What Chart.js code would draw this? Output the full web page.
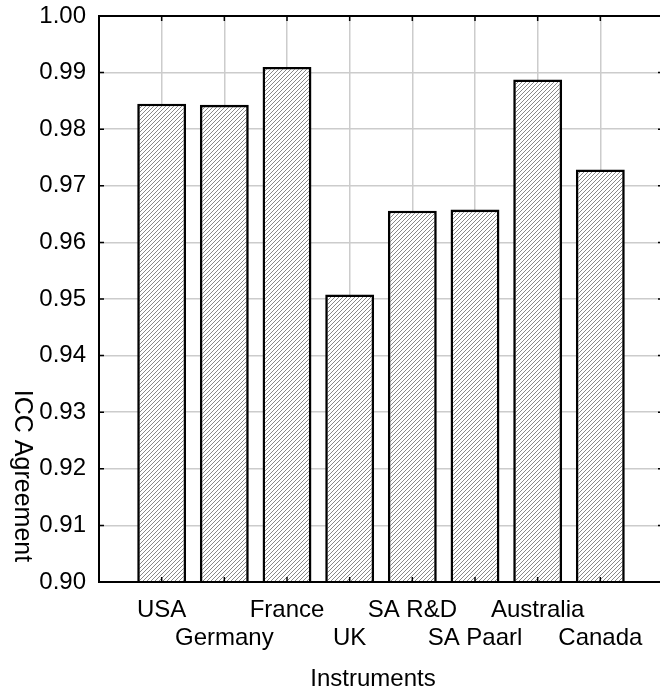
<!DOCTYPE html>
<html>
<head>
<meta charset="utf-8">
<script src="https://cdn.jsdelivr.net/npm/chart.js@4.4.1/dist/chart.umd.min.js"></script>
<style>
  html, body { margin: 0; padding: 0; background: #fff; overflow: hidden; }
  #wrap { width: 680px; height: 696px; }
</style>
</head>
<body>
<div id="wrap"><canvas id="iccChart"></canvas></div>
<script>
// data
const categories = ['USA', 'Germany', 'France', 'UK', 'SA R&D', 'SA Paarl', 'Australia', 'Canada'];
const agreement = [0.9845, 0.9843, 0.9910, 0.9508, 0.9656, 0.9658, 0.9888, 0.9729];
const yMin = 0.90;
const yMax = 1.00;
const yStep = 0.01;

// labels alternate between two rows, with an empty slot at each end of the axis
const labels = ['', ...categories.map((c, i) => (i % 2 ? ['', c] : c)), ''];
const values = [null, ...agreement, null];

// diagonal hatch fill for the bars
const makeHatch = () => {
    const n = 4;
    const tile = document.createElement('canvas');
    tile.width = n;
    tile.height = n;
    const c = tile.getContext('2d');
    c.fillStyle = '#fff';
    c.fillRect(0, 0, n, n);
    c.strokeStyle = '#6a6a6a';
    c.lineWidth = 0.8;
    c.beginPath();
    c.moveTo(0, n); c.lineTo(n, 0);
    c.moveTo(-1, 1); c.lineTo(1, -1);
    c.moveTo(n - 1, n + 1); c.lineTo(n + 1, n - 1);
    c.stroke();
    return c.createPattern(tile, 'repeat');
};

// inward tick marks, frame lines and the two axis titles
const framePlugin = {
    id: 'frame',
    afterDatasetsDraw(chart) {
        const { ctx, chartArea: a, scales: { x, y } } = chart;
        ctx.save();
        ctx.strokeStyle = '#000';
        ctx.lineWidth = 1.5;
        ctx.beginPath();
        y.ticks.forEach(t => {
            const py = y.getPixelForValue(t.value);
            ctx.moveTo(a.left, py); ctx.lineTo(a.left + 5, py);
            ctx.moveTo(a.right - 5, py); ctx.lineTo(a.right, py);
        });
        for (let i = 1; i <= categories.length; i++) {
            const px = x.getPixelForValue(i);
            ctx.moveTo(px, a.top); ctx.lineTo(px, a.top + 5);
            ctx.moveTo(px, a.bottom); ctx.lineTo(px, a.bottom - 5);
        }
        ctx.stroke();

        ctx.lineWidth = 2;
        ctx.beginPath();
        ctx.moveTo(a.left, a.top); ctx.lineTo(a.right, a.top);
        ctx.moveTo(a.right, a.top); ctx.lineTo(a.right, a.bottom);
        ctx.moveTo(a.left - 1, a.bottom); ctx.lineTo(a.right, a.bottom);
        ctx.stroke();

        ctx.fillStyle = '#000';
        ctx.textAlign = 'center';
        ctx.textBaseline = 'alphabetic';
        ctx.font = '24px "Liberation Sans", Arial, sans-serif';
        ctx.fillText('Instruments', 373, 686);

        ctx.font = '25px "Liberation Sans", Arial, sans-serif';
        ctx.translate(15, 476);
        ctx.rotate(Math.PI / 2);
        ctx.fillText('ICC Agreement', 0, 0);
        ctx.restore();
    }
};

Chart.defaults.font.family = '"Liberation Sans", Arial, sans-serif';
Chart.defaults.font.size = 24;
Chart.defaults.color = '#000';

const initChart = () => {
    const ctx = document.getElementById('iccChart').getContext('2d');
    new Chart(ctx, {
        type: 'bar',
        data: {
            labels: labels,
            datasets: [{
                data: values,
                backgroundColor: makeHatch(),
                borderColor: '#000',
                borderWidth: 2.6,
                borderSkipped: 'start',
                categoryPercentage: 1,
                barPercentage: 0.78
            }]
        },
        options: {
            responsive: true,
            maintainAspectRatio: false,
            animation: false,
            devicePixelRatio: 1,
            layout: { padding: { top: 16, left: 0, right: 17, bottom: 0 } },
            plugins: { legend: { display: false }, tooltip: { enabled: false } },
            scales: {
                x: {
                    offset: false,
                    grid: {
                        offset: false,
                        drawTicks: false,
                        color: c => (c.index === 0 || c.index === labels.length - 1) ? 'rgba(0,0,0,0)' : '#cccccc',
                        lineWidth: 1.5
                    },
                    border: { display: true, color: '#000', width: 2 },
                    ticks: {
                        autoSkip: false,
                        maxRotation: 0,
                        padding: 14,
                        font: { size: 24, lineHeight: 1.167 }
                    },
                    afterFit: s => {
                        s.height = 114;
                        s.paddingLeft = 0; s.paddingRight = 0; s.paddingTop = 0; s.paddingBottom = 0;
                    }
                },
                y: {
                    min: yMin,
                    max: yMax,
                    grid: { drawTicks: false, color: '#cccccc', lineWidth: 1.5 },
                    border: { display: true, color: '#000', width: 2 },
                    ticks: {
                        stepSize: yStep,
                        padding: 13,
                        callback: v => Number(v).toFixed(2)
                    },
                    afterFit: s => {
                        s.width = 99;
                        s.paddingLeft = 0; s.paddingRight = 0; s.paddingTop = 0; s.paddingBottom = 0;
                    }
                }
            }
        },
        plugins: [framePlugin]
    });
};

window.onload = initChart;
</script>
</body>
</html>
